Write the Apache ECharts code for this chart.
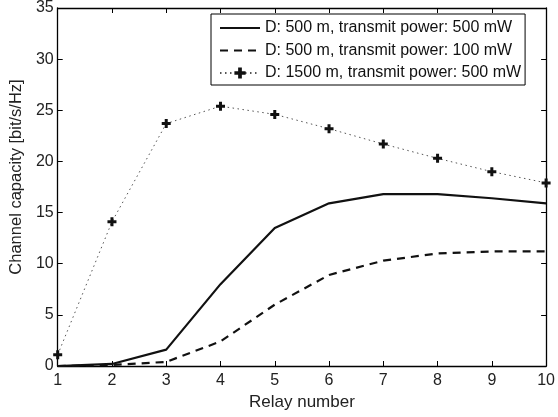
<!DOCTYPE html>
<html>
<head>
<meta charset="utf-8">
<script src="https://cdn.jsdelivr.net/npm/echarts@6/dist/echarts.min.js"></script>
<style>html,body{margin:0;padding:0;background:#fff}#c{width:558px;height:417px}</style>
</head>
<body>
<div id="c"></div>
<script>
var relays = [1, 2, 3, 4, 5, 6, 7, 8, 9, 10];
var seriesNames = [
  'D: 500 m, transmit power: 500 mW',
  'D: 500 m, transmit power: 100 mW',
  'D: 1500 m, transmit power: 500 mW'
];
var cap500m500mW = [0, 0.2, 1.6, 8.0, 13.5, 15.9, 16.8, 16.8, 16.4, 15.9];
var cap500m100mW = [0, 0.1, 0.4, 2.4, 6.0, 8.9, 10.3, 11.0, 11.2, 11.2];
var cap1500m500mW = [1.1, 14.1, 23.7, 25.4, 24.6, 23.2, 21.7, 20.3, 19.0, 17.9];
var yTicks = [0, 5, 10, 15, 20, 25, 30, 35];

function pairs(ys) { return relays.map(function (x, i) { return [x, ys[i]]; }); }

var FONT = '"Liberation Sans", Arial, Helvetica, sans-serif';
var plusPath = 'path://M3,0H6V3H9V6H6V9H3V6H0V3H3Z';

var tickStyle = { show: true, inside: true, length: 5, lineStyle: { color: '#000', width: 1 } };
var lineAx = { show: true, onZero: false, lineStyle: { color: '#000', width: 1.3 } };

var chart = echarts.init(document.getElementById('c'), null, { renderer: 'canvas' });
chart.setOption({
  animation: false,
  backgroundColor: '#fff',
  textStyle: { fontFamily: FONT },
  grid: { left: 56, right: 10, top: 4, bottom: 51, containLabel: false },
  legend: {
    left: 211, top: 14, orient: 'vertical',
    backgroundColor: '#fff', borderColor: '#000', borderWidth: 1, borderRadius: 0,
    padding: [6, 4, 4, 8], itemGap: 6.5, itemWidth: 40, itemHeight: 14,
    textStyle: { fontFamily: FONT, fontSize: 16, color: '#111' },
    data: [
      { name: seriesNames[0], itemStyle: { opacity: 0 } },
      { name: seriesNames[1], itemStyle: { opacity: 0 } },
      { name: seriesNames[2] }
    ]
  },
  xAxis: [{
    type: 'value', min: 1, max: 10, interval: 1, position: 'bottom',
    name: 'Relay number', nameLocation: 'middle', nameGap: 24,
    nameTextStyle: { fontFamily: FONT, fontSize: 17, color: '#222' },
    axisLine: lineAx, axisTick: tickStyle, splitLine: { show: false },
    axisLabel: { fontFamily: FONT, fontSize: 16, color: '#222', margin: 7 }
  }, {
    type: 'value', min: 1, max: 10, interval: 1, position: 'top',
    axisLine: lineAx, axisTick: tickStyle, splitLine: { show: false },
    axisLabel: { show: false }
  }],
  yAxis: [{
    type: 'value', min: yTicks[0], max: yTicks[yTicks.length - 1], interval: 5, position: 'left',
    name: 'Channel capacity [bit/s/Hz]', nameLocation: 'middle', nameGap: 31,
    nameTextStyle: { fontFamily: FONT, fontSize: 16.5, color: '#222', padding: [0, 0, 0, 20] },
    axisLine: lineAx, axisTick: tickStyle, splitLine: { show: false },
    axisLabel: { fontFamily: FONT, fontSize: 16, color: '#222', margin: 4 }
  }, {
    type: 'value', min: yTicks[0], max: yTicks[yTicks.length - 1], interval: 5, position: 'right',
    axisLine: lineAx, axisTick: tickStyle, splitLine: { show: false },
    axisLabel: { show: false }
  }],
  series: [{
    name: seriesNames[0], type: 'line', data: pairs(cap500m500mW),
    symbol: 'none', lineStyle: { color: '#111', width: 2.2, type: 'solid' },
    itemStyle: { color: '#111' }
  }, {
    name: seriesNames[1], type: 'line', data: pairs(cap500m100mW),
    symbol: 'none', lineStyle: { color: '#111', width: 2.2, type: [8, 6] },
    itemStyle: { color: '#111' }
  }, {
    name: seriesNames[2], type: 'line', data: pairs(cap1500m500mW),
    symbol: plusPath, symbolSize: 9, showAllSymbol: true,
    lineStyle: { color: '#555', width: 1, type: [1.5, 3.5] },
    itemStyle: { color: '#111' }
  }]
});
</script>
</body>
</html>
